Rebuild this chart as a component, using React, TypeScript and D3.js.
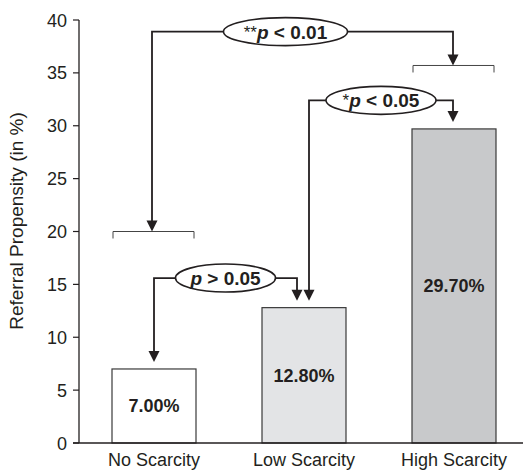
import React from 'react';
import * as d3 from 'd3';

const categories = ['No Scarcity', 'Low Scarcity', 'High Scarcity'];
const values = [7.0, 12.8, 29.7];
const valueLabels = ['7.00%', '12.80%', '29.70%'];
const yTicks = [0, 5, 10, 15, 20, 25, 30, 35, 40];

// group brackets (data units)
const brackets = [
  { cat: 'No Scarcity', level: 20 },
  { cat: 'High Scarcity', level: 35.7 },
];

// pairwise comparisons: level = y of the connector line (data units)
const comparisons = [
  { stars: '', label: 'p > 0.05', sign: '>', level: 15.6, from: 'No Scarcity', to: 'Low Scarcity', fromOff: 0, toOff: -7, fromBracket: null, toBracket: null, rx: 50, shift: 0 },
  { stars: '*', label: 'p < 0.05', sign: '<', level: 32.4, from: 'Low Scarcity', to: 'High Scarcity', fromOff: 5, toOff: -1, fromBracket: null, toBracket: null, rx: 55, shift: 0 },
  { stars: '**', label: 'p < 0.01', sign: '<', level: 38.9, from: 'No Scarcity', to: 'High Scarcity', fromOff: -2, toOff: -1, fromBracket: 20, toBracket: 35.7, rx: 62, shift: -17 },
];

const fills = ['#ffffff', '#e3e4e6', '#c8c9cb'];
const ink = '#231f20';
const font = '"Liberation Sans", Arial, Helvetica, sans-serif';

const W = 523;
const H = 471;

export default function App() {
  const y = d3.scaleLinear().domain([0, 40]).range([443, 20]);
  const x = d3
    .scaleBand<string>()
    .domain(categories)
    .range([79, 529])
    .paddingInner(0.44)
    .paddingOuter(0.22);
  const bw = x.bandwidth();
  const cx = (c: string) => (x(c) || 0) + bw / 2;
  const valOf = (c: string) => values[categories.indexOf(c)];

  const arrow = (ax: number, tipY: number, key: string) => (
    <path key={key} d={`M${ax - 5.5},${tipY - 11}L${ax + 5.5},${tipY - 11}L${ax},${tipY}Z`} fill={ink} />
  );

  return (
    <svg width={W} height={H} style={{ position: 'absolute', left: 0, top: 0, background: '#fff' }} fontFamily={font}>
      {/* y axis */}
      <line x1={79} x2={79} y1={y(40)} y2={y(0)} stroke={ink} strokeWidth={1.3} />
      {yTicks.map(t => (
        <g key={t}>
          <line x1={73} x2={79} y1={y(t)} y2={y(t)} stroke={ink} strokeWidth={1.2} />
          <text x={67} y={y(t) + 6.5} textAnchor="end" fontSize={18} fill={ink}>{t}</text>
        </g>
      ))}
      <text
        transform={`translate(23,221) rotate(-90)`}
        textAnchor="middle"
        fontSize={19}
        fill={ink}
      >
        Referral Propensity (in %)
      </text>

      {/* bars */}
      {categories.map((c, i) => (
        <g key={c}>
          <rect x={x(c)} y={y(values[i])} width={bw} height={y(0) - y(values[i])} fill={fills[i]} stroke="#3a3a3a" strokeWidth={1.2} />
          <text x={cx(c)} y={(y(values[i]) + y(0)) / 2 + 6.5} textAnchor="middle" fontSize={18} fontWeight="bold" fill={ink}>
            {valueLabels[i]}
          </text>
          <text x={cx(c)} y={466} textAnchor="middle" fontSize={18} fill={ink}>{c}</text>
        </g>
      ))}

      {/* x axis baseline */}
      <line x1={73} x2={W} y1={y(0)} y2={y(0)} stroke={ink} strokeWidth={1.3} />

      {/* brackets */}
      {brackets.map(b => {
        const x0 = (x(b.cat) || 0) + 1;
        const x1 = x0 + bw - 3;
        const by = y(b.level);
        return (
          <path key={b.cat} d={`M${x0},${by + 7}L${x0},${by}L${x1},${by}L${x1},${by + 7}`} fill="none" stroke="#444" strokeWidth={1} />
        );
      })}

      {/* comparisons */}
      {comparisons.map((cmp, i) => {
        const ly = y(cmp.level);
        const xa = cx(cmp.from) + cmp.fromOff;
        const xb = cx(cmp.to) + cmp.toOff;
        const tipA = cmp.fromBracket != null ? y(cmp.fromBracket) : y(valOf(cmp.from)) - 7;
        const tipB = cmp.toBracket != null ? y(cmp.toBracket) : y(valOf(cmp.to)) - 7;
        const ex = (xa + xb) / 2 + cmp.shift;
        return (
          <g key={i}>
            <path d={`M${xa},${tipA - 10}L${xa},${ly}L${xb},${ly}L${xb},${tipB - 10}`} fill="none" stroke={ink} strokeWidth={1.8} />
            {arrow(xa, tipA, 'a')}
            {arrow(xb, tipB, 'b')}
            <ellipse cx={ex} cy={ly} rx={cmp.rx} ry={14} fill="#fff" stroke={ink} strokeWidth={1.6} />
            <text x={ex} y={ly + 7} textAnchor="middle" fill={ink} fontSize={19}>
              {cmp.stars && <tspan fontSize={17} dy={-1}>{cmp.stars}</tspan>}
              <tspan fontWeight="bold" fontStyle="italic" dy={cmp.stars ? 1 : 0}>p</tspan>
              <tspan fontWeight="bold">{` ${cmp.sign} ${cmp.label.split(' ').pop()}`}</tspan>
            </text>
          </g>
        );
      })}
    </svg>
  );
}
